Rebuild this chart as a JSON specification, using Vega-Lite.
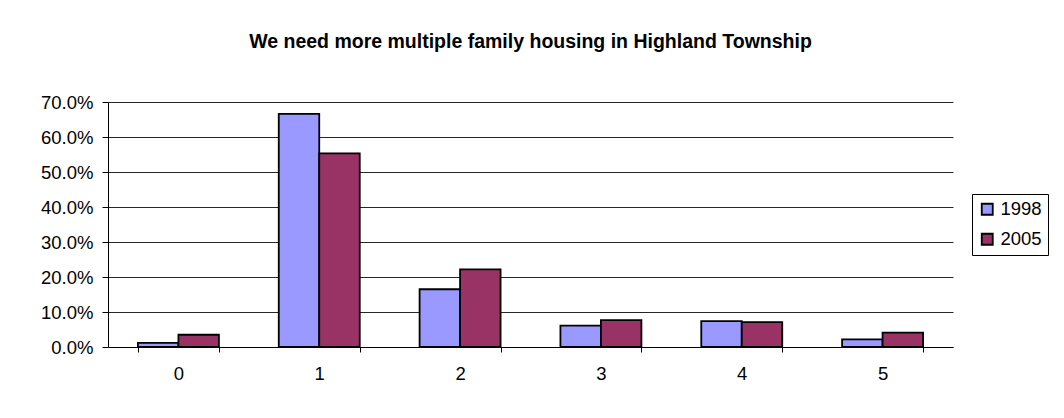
{
  "$schema": "https://vega.github.io/schema/vega-lite/v6.json",
  "autosize": {"type": "none"},
  "width": 845,
  "height": 245,
  "padding": {"left": 108, "top": 102, "right": 111, "bottom": 71},
  "background": "white",
  "title": {
    "text": "We need more multiple family housing in Highland Township",
    "font": "Liberation Sans",
    "fontSize": 19.5,
    "fontWeight": "bold",
    "color": "black",
    "anchor": "middle",
    "offset": 41
  },
  "data": {
    "values": [
      {"rating": "0", "year": "1998", "share": 0.012},
      {"rating": "0", "year": "2005", "share": 0.035},
      {"rating": "1", "year": "1998", "share": 0.666},
      {"rating": "1", "year": "2005", "share": 0.553},
      {"rating": "2", "year": "1998", "share": 0.165},
      {"rating": "2", "year": "2005", "share": 0.222},
      {"rating": "3", "year": "1998", "share": 0.061},
      {"rating": "3", "year": "2005", "share": 0.077},
      {"rating": "4", "year": "1998", "share": 0.074},
      {"rating": "4", "year": "2005", "share": 0.071},
      {"rating": "5", "year": "1998", "share": 0.022},
      {"rating": "5", "year": "2005", "share": 0.041}
    ]
  },
  "mark": {"type": "bar", "stroke": "black", "strokeWidth": 1.8},
  "encoding": {
    "x": {
      "field": "rating",
      "type": "nominal",
      "sort": null,
      "scale": {"paddingInner": 0.425, "paddingOuter": 0.2125},
      "axis": {
        "title": null,
        "labelAngle": 0,
        "tickBand": "extent",
        "domainColor": "black",
        "tickColor": "black",
        "tickSize": 5,
        "labelPadding": 12,
        "labelFont": "Liberation Sans",
        "labelFontSize": 18.5,
        "labelColor": "black"
      }
    },
    "xOffset": {"field": "year", "type": "nominal", "scale": {"paddingInner": 0, "paddingOuter": 0}},
    "y": {
      "field": "share",
      "type": "quantitative",
      "scale": {"domain": [0, 0.7], "nice": false},
      "axis": {
        "title": null,
        "values": [0, 0.1, 0.2, 0.3, 0.4, 0.5, 0.6, 0.7],
        "format": ".1%",
        "domainColor": "black",
        "tickColor": "black",
        "tickSize": 6,
        "gridColor": "black",
        "gridOpacity": 0.85,
        "labelPadding": 9,
        "labelFont": "Liberation Sans",
        "labelFontSize": 18.5,
        "labelColor": "black"
      }
    },
    "fill": {
      "field": "year",
      "type": "nominal",
      "scale": {"domain": ["1998", "2005"], "range": ["#9999FF", "#993366"]},
      "legend": {
        "title": null,
        "orient": "none",
        "legendX": 864,
        "legendY": 92,
        "symbolType": "square",
        "symbolSize": 121,
        "symbolStrokeColor": "black",
        "symbolStrokeWidth": 1.8,
        "labelFont": "Liberation Sans",
        "labelFontSize": 18.5,
        "labelColor": "black",
        "labelOffset": 4,
        "rowPadding": 11,
        "strokeColor": "black",
        "padding": 6,
        "fillColor": "white"
      }
    }
  },
  "config": {"view": {"stroke": null}}
}
